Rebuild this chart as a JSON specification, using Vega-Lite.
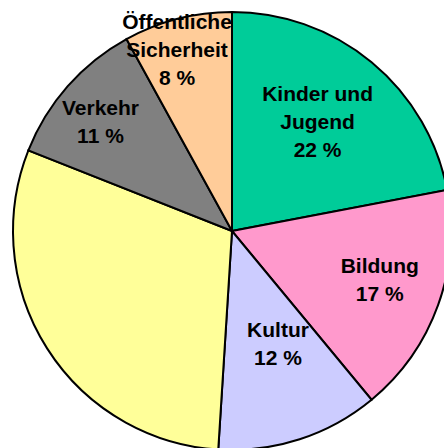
{
  "$schema": "https://vega.github.io/schema/vega-lite/v6.json",
  "width": 464,
  "height": 462,
  "autosize": {"type": "none"},
  "padding": 0,
  "view": {"stroke": null},
  "data": {
    "values": [
      {"Rang": 1, "Bereich": "Kinder und Jugend", "Anteil": 22, "Beschriftung": "Kinder und\nJugend\n22 %"},
      {"Rang": 2, "Bereich": "Bildung", "Anteil": 17, "Beschriftung": "Bildung\n17 %"},
      {"Rang": 3, "Bereich": "Kultur", "Anteil": 12, "Beschriftung": "Kultur\n12 %"},
      {"Rang": 4, "Bereich": "Sonstige", "Anteil": 30, "Beschriftung": ""},
      {"Rang": 5, "Bereich": "Verkehr", "Anteil": 11, "Beschriftung": "Verkehr\n11 %"},
      {"Rang": 6, "Bereich": "Öffentliche Sicherheit", "Anteil": 8, "Beschriftung": "Öffentliche\nSicherheit\n8 %"}
    ]
  },
  "encoding": {
    "theta": {"field": "Anteil", "type": "quantitative", "stack": true},
    "order": {"field": "Rang", "type": "quantitative"}
  },
  "layer": [
    {
      "mark": {"type": "arc", "radius": 219, "stroke": "black", "strokeWidth": 2},
      "encoding": {
        "color": {
          "field": "Bereich",
          "type": "nominal",
          "scale": {
            "domain": ["Kinder und Jugend", "Bildung", "Kultur", "Sonstige", "Verkehr", "Öffentliche Sicherheit"],
            "range": ["#00CC99", "#FF99CC", "#CCCCFF", "#FFFF99", "#808080", "#FFCC99"]
          },
          "legend": null
        }
      }
    },
    {
      "mark": {"type": "text", "radius": 139, "dx": -3, "dy": -29, "font": "Liberation Sans", "fontSize": 21, "fontWeight": "bold", "lineBreak": "\n", "lineHeight": 28, "align": "center", "baseline": "middle", "color": "black"},
      "encoding": {"text": {"condition": {"test": "datum.Rang === 1", "field": "Beschriftung"}, "value": ""}}
    },
    {
      "mark": {"type": "text", "radius": 157, "dy": -17, "font": "Liberation Sans", "fontSize": 21, "fontWeight": "bold", "lineBreak": "\n", "lineHeight": 28, "align": "center", "baseline": "middle", "color": "black"},
      "encoding": {"text": {"condition": {"test": "datum.Rang === 2", "field": "Beschriftung"}, "value": ""}}
    },
    {
      "mark": {"type": "text", "radius": 123, "dx": 8, "dy": -17, "font": "Liberation Sans", "fontSize": 21, "fontWeight": "bold", "lineBreak": "\n", "lineHeight": 28, "align": "center", "baseline": "middle", "color": "black"},
      "encoding": {"text": {"condition": {"test": "datum.Rang === 3", "field": "Beschriftung"}, "value": ""}}
    },
    {
      "mark": {"type": "text", "radius": 170, "dx": -4, "dy": -10, "font": "Liberation Sans", "fontSize": 21, "fontWeight": "bold", "lineBreak": "\n", "lineHeight": 28, "align": "center", "baseline": "middle", "color": "black"},
      "encoding": {"text": {"condition": {"test": "datum.Rang === 5", "field": "Beschriftung"}, "value": ""}}
    },
    {
      "mark": {"type": "text", "radius": 189, "dx": -8, "dy": -25, "font": "Liberation Sans", "fontSize": 21, "fontWeight": "bold", "lineBreak": "\n", "lineHeight": 28, "align": "center", "baseline": "middle", "color": "black"},
      "encoding": {"text": {"condition": {"test": "datum.Rang === 6", "field": "Beschriftung"}, "value": ""}}
    }
  ]
}
